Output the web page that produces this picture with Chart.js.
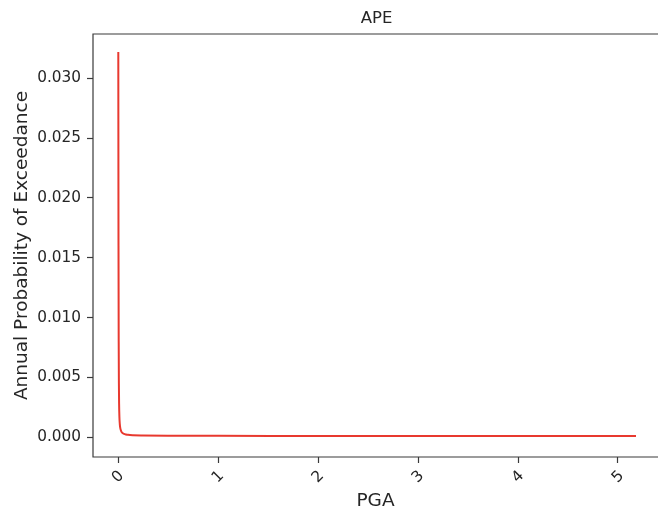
<!DOCTYPE html>
<html>
<head>
<meta charset="utf-8">
<script src="https://cdn.jsdelivr.net/npm/chart.js@4/dist/chart.umd.min.js"></script>
<style>
  html, body { margin: 0; padding: 0; background: #fff; overflow: hidden; }
  canvas { display: block; }
</style>
</head>
<body>
<canvas id="apeChart" width="658" height="514"></canvas>
<script>
// data
let pga = [0.003, 0.005, 0.007, 0.009, 0.011, 0.014, 0.018, 0.022, 0.028, 0.035, 0.045, 0.06, 0.08, 0.1, 0.15, 0.25, 0.5, 1.0, 2.0, 3.0, 4.0, 5.18];
let ape = [0.0322, 0.016, 0.008, 0.0045, 0.0028, 0.0017, 0.0011, 0.0008, 0.0006, 0.00045, 0.00036, 0.00028, 0.00023, 0.0002, 0.00017, 0.00015, 0.00013, 0.00012, 0.00011, 0.0001, 0.0001, 0.0001];

let xTicks = [0, 1, 2, 3, 4, 5];
let yTicks = [0, 0.005, 0.010, 0.015, 0.020, 0.025, 0.030];

let textColor = "#262626";
let frameColor = "#3a3a3a";

Chart.defaults.font.family = "'DejaVu Sans', sans-serif";
Chart.defaults.color = textColor;

// title over the plot box, plus the frame round it
// (the right side of the box is past the edge of the picture)
let framePlugin = {
  id: "frame",
  afterDraw(chart) {
    let ctx = chart.ctx;
    let a = chart.chartArea;
    ctx.save();
    ctx.strokeStyle = frameColor;
    ctx.lineWidth = 1.2;
    ctx.beginPath();
    ctx.moveTo(chart.width, a.top);
    ctx.lineTo(a.left, a.top);
    ctx.lineTo(a.left, a.bottom);
    ctx.lineTo(chart.width, a.bottom);
    ctx.stroke();
    ctx.fillStyle = textColor;
    ctx.font = "16.5px 'DejaVu Sans'";
    ctx.textAlign = "center";
    ctx.textBaseline = "alphabetic";
    ctx.fillText("APE", 376.5, 23);
    ctx.restore();
  }
};

let points = pga.map((p, i) => ({ x: p, y: ape[i] }));

let apeChart = new Chart(document.getElementById("apeChart").getContext("2d"), {
  type: "scatter",
  data: {
    datasets: [{
      data: points,
      showLine: true,
      borderColor: "#e8392f",
      borderWidth: 2,
      pointRadius: 0,
      cubicInterpolationMode: "monotone"
    }]
  },
  options: {
    responsive: false,
    animation: false,
    layout: { padding: { top: 34, left: 0, right: 0, bottom: 0 } },
    plugins: {
      legend: { display: false },
      tooltip: { enabled: false },
      title: { display: false }
    },
    scales: {
      x: {
        type: "linear",
        min: -0.25,
        max: 5.40,
        afterBuildTicks: (scale) => { scale.ticks = xTicks.map(v => ({ value: v })); },
        afterFit: (scale) => {
          scale.height = 57;
          scale.paddingLeft = 0;
          scale.paddingRight = 0;
        },
        border: { display: false },
        grid: { drawOnChartArea: false, drawTicks: true, tickLength: 6, tickColor: frameColor, tickWidth: 1.2 },
        ticks: {
          autoSkip: false,
          minRotation: 45,
          maxRotation: 45,
          padding: 4,
          labelOffset: 3.5,
          font: { size: 15.3 },
          color: textColor,
          callback: (v) => String(v)
        },
        title: {
          display: true,
          text: "PGA",
          font: { size: 18.5 },
          color: textColor,
          padding: { top: 0, bottom: 1.5 }
        }
      },
      y: {
        type: "linear",
        min: -0.00165,
        max: 0.0337,
        afterBuildTicks: (scale) => { scale.ticks = yTicks.map(v => ({ value: v })); },
        afterFit: (scale) => {
          scale.width = 93;
          scale.paddingTop = 0;
          scale.paddingBottom = 0;
        },
        border: { display: false },
        grid: { drawOnChartArea: false, drawTicks: true, tickLength: 6, tickColor: frameColor, tickWidth: 1.2 },
        ticks: {
          padding: 6,
          font: { size: 15.3 },
          color: textColor,
          callback: (v) => v.toFixed(3)
        },
        title: {
          display: true,
          text: "Annual Probability of Exceedance",
          font: { size: 18.5 },
          color: textColor,
          padding: { top: 11, bottom: 0 }
        }
      }
    }
  },
  plugins: [framePlugin]
});
</script>
</body>
</html>
